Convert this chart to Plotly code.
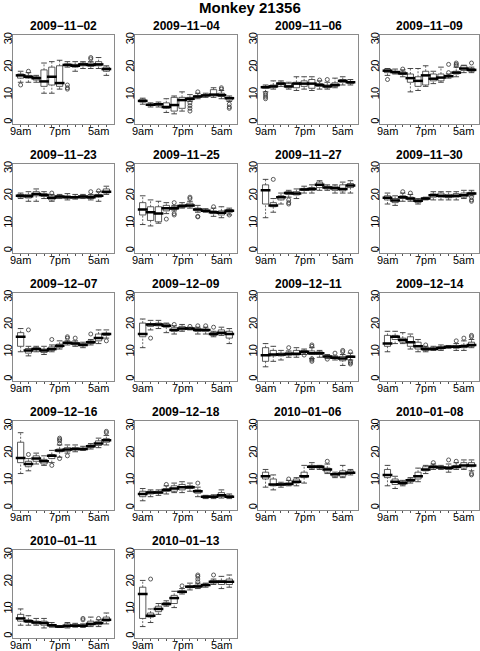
import plotly.graph_objects as go

DATES = ["2009-11-02", "2009-11-04", "2009-11-06", "2009-11-09",
         "2009-11-23", "2009-11-25", "2009-11-27", "2009-11-30",
         "2009-12-07", "2009-12-09", "2009-12-11", "2009-12-14",
         "2009-12-16", "2009-12-18", "2010-01-06", "2010-01-08",
         "2010-01-11", "2010-01-13"]
HOURS = ["9am", "11am", "1pm", "3pm", "5pm", "7pm", "9pm", "11pm", "1am", "3am", "5am", "7am"]
SHOWN_HOURS = ["9am", "7pm", "5am"]
Y_TICKS = [0, 10, 20, 30]

LOW = [
    [14, 14, 14, 10, 10, 11.5, 19.5, 18, 19, 19, 19, 16.5],
    [6, 5, 5, 3, 2.5, 3.5, 7, 8, 8.5, 8.5, 8, 7],
    [10.5, 11.5, 12.5, 11.5, 11, 11.5, 11, 11.5, 11.5, 12, 13, 13],
    [16.5, 17, 16, 10.5, 11, 12.5, 13.5, 14, 15.5, 16, 17.5, 17.5],
    [18.5, 17.5, 17.5, 18.5, 17.5, 18.5, 18, 18.3, 18.5, 18, 17.5, 20],
    [9, 8.5, 9.5, 13, 14, 15, 15, 13.5, 13.5, 12, 11.5, 12.5],
    [11.5, 13.5, 16.5, 19, 18.5, 20.5, 20.5, 21.5, 21.5, 20.5, 20.5, 20.5],
    [16.5, 16, 17.5, 17.5, 16.5, 18, 18, 18, 18, 18, 18.5, 19.5],
    [9.5, 8, 9.5, 8.5, 9.5, 10.5, 12, 11.5, 11, 12, 12.5, 14.5],
    [11, 17.5, 18, 16.5, 16, 17, 17.5, 16, 16, 15, 15.5, 12.5],
    [4, 6, 6.5, 7.5, 7.5, 8.5, 7, 7.5, 7, 6.5, 4.5, 6.5],
    [9.5, 12.5, 12.5, 10.5, 9.5, 9.5, 10, 10, 10.8, 10, 10, 11],
    [12, 13, 15.5, 15, 16, 18, 19.5, 20, 20.5, 21, 21.5, 22.5],
    [2, 3.5, 4, 4.5, 5, 5, 5.5, 3.5, 2.8, 2.8, 3, 2.8],
    [7, 6, 7, 7.5, 7.5, 8.5, 13.5, 13.5, 12, 10.5, 10.5, 11.5],
    [7.5, 6.5, 7.5, 8.5, 9, 12, 13.5, 13.5, 12.5, 13.5, 13.5, 13],
    [3.5, 3.5, 3.5, 2.5, 2.8, 2.7, 2.5, 2.8, 2.7, 3, 3, 4],
    [3, 4.5, 7.5, 10.5, 10, 15, 16.5, 17, 17.5, 18.5, 17, 17.5],
]
Q1 = [
    [15.5, 15.5, 14.8, 12.5, 13, 12.5, 20, 19.5, 20, 19.8, 20, 18],
    [6.8, 5.5, 5.6, 4.5, 3.5, 4.5, 7.5, 8.5, 9, 9, 8.8, 7.5],
    [11.8, 12, 13.2, 12, 12, 12.5, 11.8, 12.5, 12, 12.5, 14, 13.5],
    [17.5, 17.3, 16.8, 14, 12.5, 13, 14.5, 14.5, 16, 17, 18.3, 18],
    [19, 18.7, 19.5, 19.3, 18, 18.8, 18.7, 18.7, 18.8, 18.5, 19, 20.5],
    [12.5, 10.5, 10, 14, 14.5, 15.3, 15.5, 14, 13.7, 13, 12.5, 13.5],
    [16.5, 15.5, 18, 20, 19.8, 21.5, 21.5, 22.5, 22, 21.5, 21.3, 22.5],
    [18, 17, 18.5, 18, 17, 18.2, 19, 19, 18.8, 19, 19, 20],
    [11.5, 9, 10.2, 9.2, 10, 11, 12.5, 12, 11.7, 12.5, 13.5, 15.5],
    [15, 18.8, 19, 18.5, 17, 17.5, 17.7, 17, 17, 15.5, 16, 14.5],
    [6, 8, 8, 8.3, 8.3, 9.2, 8.5, 8.5, 7.5, 7, 6.2, 7.5],
    [11.5, 14, 13, 11.5, 10.5, 10, 10.3, 10.5, 11, 10.8, 11, 11.5],
    [16, 14.5, 16.5, 15.5, 17.5, 20, 20.2, 20.7, 20.7, 21.5, 22.3, 23.5],
    [3.5, 4.5, 4.8, 5.5, 5.5, 6, 6.5, 4.8, 3, 3.2, 3.5, 3.2],
    [10, 7.5, 7.7, 7.8, 8.5, 10.5, 14, 14, 12.5, 11, 11, 12],
    [10.5, 8, 8, 9, 10, 13, 14, 14, 13.5, 14, 14, 14.5],
    [5, 4.5, 4, 3.5, 3, 2.8, 2.8, 3, 3, 3.5, 3.7, 5],
    [6, 6.5, 8.5, 11, 11.5, 15.5, 17.3, 17.3, 18, 19, 18.5, 18.5],
]
MEDIAN = [
    [16.5, 16, 15.5, 14.3, 16, 13.7, 20.3, 20, 20.5, 20.3, 20.5, 18.8],
    [7.2, 5.8, 6, 5, 5.7, 7.5, 8, 8.8, 9.2, 9.5, 9.3, 8.2],
    [12.2, 12.5, 13.5, 12.5, 13.5, 13.5, 13.5, 13, 12.5, 13, 14.5, 14],
    [18.2, 17.7, 17.2, 15.5, 14.5, 16.5, 15.3, 15.7, 16.2, 17.5, 19, 18.5],
    [19.5, 19.3, 20.2, 19.8, 18.8, 19.2, 19, 19, 19.2, 19, 19.5, 21],
    [14.5, 13.5, 13, 15, 15, 15.8, 16, 14.5, 14, 13.5, 13.3, 14],
    [21.5, 16, 19, 20.5, 20.3, 21.8, 22, 23.5, 22.5, 22.3, 22, 23.3],
    [18.8, 17.8, 19, 18.5, 17.7, 18.5, 19.7, 19.5, 19.3, 19.5, 19.7, 20.3],
    [15, 10, 10.5, 10, 10.5, 11.7, 12.8, 12.5, 12, 13, 14.5, 16],
    [16, 19.5, 19.5, 19, 17.5, 18, 18, 17.5, 17.5, 16, 16.5, 16],
    [8.2, 8.5, 8.5, 8.7, 8.8, 9.5, 9, 9, 7.8, 7.3, 7, 7.7],
    [12.5, 15, 13.8, 13, 11.5, 10.5, 10.5, 11, 11.3, 11.3, 11.5, 12],
    [17.7, 15.5, 17.5, 16.5, 18.5, 20.5, 20.8, 21, 21, 22, 23, 24.2],
    [4.5, 5, 5, 6, 6.5, 7, 7, 5.5, 3.5, 3.5, 4, 3.5],
    [11, 8, 8, 8.2, 9, 11, 14.5, 14.5, 13.5, 11.7, 12, 12.3],
    [11.5, 9, 8.5, 9.5, 11, 13.5, 14.5, 14.2, 14, 14.5, 15, 15],
    [6, 5, 4.5, 4.3, 3.5, 3, 3.3, 3.3, 3.3, 4, 4.3, 5.5],
    [15, 7, 9.5, 11.3, 13.5, 15.8, 17.7, 17.8, 18.3, 19.5, 19.5, 19.5],
]
Q3 = [
    [17, 16.5, 16, 18.5, 19.5, 20, 20.7, 20.5, 21, 21, 21.5, 19.5],
    [7.8, 6, 6.3, 6.5, 8.5, 8.5, 8.5, 9.2, 9.5, 11.3, 10, 8.5],
    [12.5, 13, 14, 13.5, 14, 14.5, 15, 13.5, 13, 13.8, 15, 14.3],
    [18.8, 18, 17.8, 17, 16, 18, 17, 17, 16.5, 18, 20, 19],
    [20, 20, 21, 20.3, 19.5, 19.5, 19.5, 19.3, 19.5, 19.5, 20, 22],
    [17, 15.5, 15.5, 16, 15.5, 16.2, 16.8, 15, 14.3, 14, 14, 14.5],
    [23.5, 17, 19.5, 21, 21, 22.2, 22.5, 24.5, 23, 23, 23.5, 24],
    [19.5, 18.5, 19.5, 19, 18, 18.8, 20.2, 20.5, 20, 20.3, 20.5, 20.8],
    [16.5, 10.7, 11, 10.5, 11.3, 12.3, 13, 13, 12.5, 13.5, 16, 16.3],
    [20, 19.8, 20, 19.7, 18.3, 18.8, 18.3, 18, 17.8, 16.5, 17.5, 17],
    [11, 10, 9, 9.3, 10, 10, 9.8, 9.5, 8, 7.7, 7.8, 8],
    [15.5, 15.5, 14.5, 15, 13, 11, 11, 11.3, 11.5, 11.8, 12, 13],
    [23.5, 16.5, 18.5, 17.2, 19, 21, 21.5, 21.5, 21.3, 22.5, 24, 24.8],
    [5.5, 5.5, 5.5, 6.5, 7.5, 8, 7.5, 6, 3.8, 3.8, 5, 4],
    [12.5, 10, 8.3, 8.5, 10, 12.5, 15, 14.8, 14, 12, 13, 13],
    [13.5, 10, 9, 10, 12.5, 14.5, 14.8, 14.5, 14.5, 15, 16, 16],
    [7.5, 5.5, 5, 5, 3.8, 3.2, 4, 3.8, 3.6, 5, 4.8, 6.5],
    [17.5, 8, 10.5, 11.8, 14.5, 16.2, 18, 18.3, 18.7, 20, 20, 20.5],
]
HIGH = [
    [18, 17.5, 16.5, 21, 21.5, 22, 21.5, 21.5, 21.5, 21.5, 23, 20],
    [8.2, 6.5, 6.8, 8, 9, 10.5, 9.5, 10, 10, 12, 11, 9],
    [13, 14.5, 14.5, 14, 16, 16, 16, 14.5, 14, 15.5, 16, 15],
    [19, 18.8, 18.5, 19, 19, 20, 18, 19.5, 17, 19.5, 20.2, 19.5],
    [20.5, 21, 22, 21, 20, 20, 20.3, 20, 20, 20, 21, 23],
    [19.5, 18, 17.5, 17, 16, 17, 17.5, 16, 14.8, 15, 15.5, 15],
    [25.5, 18.5, 20.5, 21.5, 22, 23, 23.5, 25, 23.5, 23.5, 24.5, 25],
    [20.5, 19.5, 20.5, 20, 18.5, 19, 21, 21, 21, 21, 21.5, 21.5],
    [18, 11.5, 11.5, 11.5, 12, 13.5, 13.5, 13.5, 13, 14, 17.5, 17.5],
    [21.5, 21, 21, 20, 19, 19.5, 18.5, 18.5, 18.5, 17, 18.5, 18],
    [12.5, 11.5, 10, 9.8, 11, 10.5, 11, 10, 8.5, 8, 8.5, 9],
    [17, 17, 16.5, 16, 14, 11.5, 11.5, 12, 11.8, 12.5, 13.5, 14],
    [27, 17.5, 19.5, 18.5, 20.5, 22.5, 22.5, 22.5, 22, 23, 25, 26],
    [6.5, 6, 6, 7.5, 8.5, 9, 8.5, 7, 4, 4.2, 6, 4.5],
    [13.5, 11.5, 8.8, 9.5, 10.5, 15, 16, 15, 15.5, 12.5, 15, 13.5],
    [15, 11, 9.5, 10.5, 14, 15, 15.5, 15, 15.5, 16, 17, 17],
    [9.5, 7, 6, 6, 4.5, 3.4, 4.5, 4.2, 4, 6.5, 5.5, 8],
    [20, 9.5, 11.5, 12.5, 16, 17, 19, 19, 19, 20.5, 21.5, 22],
]
# outliers per panel: (box number, value)
OUTLIERS = [
    [(1, 13), (2, 18), (7, 13), (7, 12), (7, 11.5), (10, 22.5), (10, 23)],
    [(7, 6.5), (7, 5.5), (7, 4.5), (7, 3.5), (8, 10.5), (11, 11.5), (11, 12), (12, 6), (12, 5), (12, 4.5)],
    [(1, 10), (1, 9.3), (1, 8.6), (1, 8), (8, 14.8), (9, 15)],
    [(1, 15), (3, 18.8), (9, 17.5), (9, 20.5), (10, 20), (10, 20.5), (10, 21), (12, 21)],
    [(5, 20.5), (10, 21), (11, 21.3)],
    [(4, 11), (5, 17), (5, 13), (5, 12.5), (7, 18.5), (7, 19), (8, 12), (8, 11.8), (10, 15.5), (12, 12.5)],
    [(2, 25.5), (4, 18), (4, 17), (4, 16.5)],
    [(3, 21), (4, 20.5), (12, 19), (12, 18), (12, 17.5)],
    [(2, 17.5), (5, 14), (7, 14.5), (7, 15), (8, 14.5), (10, 16), (12, 13.5)],
    [(2, 14.5), (5, 19.5), (7, 18.8), (8, 19), (9, 19), (10, 18.5)],
    [(4, 11), (6, 8.3), (7, 12), (7, 11.5), (7, 7), (7, 6.5), (7, 6), (9, 6.8), (10, 9),
     (11, 9.5), (11, 10), (12, 6), (12, 5.5), (12, 5), (12, 9.5)],
    [(6, 12), (10, 13.5), (11, 14.5), (12, 15.5), (12, 15)],
    [(2, 19), (5, 15), (6, 23), (6, 24), (6, 24.5), (6, 25), (6, 17.5), (7, 18.5), (12, 27), (12, 27.5)],
    [(4, 8), (8, 8.5)],
    [(4, 10), (9, 16.5)],
    [(7, 16), (9, 17), (10, 16.5), (12, 12), (12, 11.5)],
    [(9, 5.5), (9, 6), (11, 6)],
    [(2, 20.5), (6, 18), (8, 19.5), (8, 20.5), (8, 21.5), (8, 22), (10, 22)],
]

W, H = 480, 651
COL_L = [13, 135, 258, 380]
COL_R = [114, 237, 358, 479]
ROW_T = [35 + 128.75 * r for r in range(5)]
ROW_B = [124 + 128.5 * r for r in range(5)]
FONT = "Liberation Sans, Arial, Helvetica, sans-serif"
FRAME = "#8a8a8a"
TICKC = "#555555"
BOXC = "#333333"

fig = go.Figure()
annotations = []
layout_axes = {}
positions = list(range(1, len(HOURS) + 1))

for i, date in enumerate(DATES):
    r, c = divmod(i, 4)
    sfx = "" if i == 0 else str(i + 1)
    xa, ya = "x" + sfx, "y" + sfx

    # dashed whiskers (R style)
    wx, wy = [], []
    for p, lo, a, b3, hi in zip(positions, LOW[i], Q1[i], Q3[i], HIGH[i]):
        wx += [p, p, None, p, p, None]
        wy += [lo, a, None, b3, hi, None]
    fig.add_trace(go.Scatter(
        x=wx, y=wy, mode="lines", line=dict(color="#444444", width=0.8, dash="2px,1.5px"),
        xaxis=xa, yaxis=ya, hoverinfo="skip"))
    # whisker caps
    fig.add_trace(go.Scatter(
        x=positions + positions, y=LOW[i] + HIGH[i], mode="markers",
        marker=dict(symbol="line-ew", size=4, color="#333333",
                    line=dict(width=0.9, color="#333333")),
        xaxis=xa, yaxis=ya, hoverinfo="skip"))
    # boxes (no whiskers: fences at quartiles)
    fig.add_trace(go.Box(
        x=positions, q1=Q1[i], median=MEDIAN[i], q3=Q3[i],
        lowerfence=Q1[i], upperfence=Q3[i],
        width=0.8, whiskerwidth=0, boxpoints=False,
        fillcolor="white", line=dict(color=BOXC, width=0.8),
        xaxis=xa, yaxis=ya, hoverinfo="skip"))
    # thick medians
    fig.add_trace(go.Scatter(
        x=positions, y=MEDIAN[i], mode="markers",
        marker=dict(symbol="line-ew", size=7, color="black",
                    line=dict(width=2.5, color="black")),
        xaxis=xa, yaxis=ya, hoverinfo="skip"))
    if OUTLIERS[i]:
        fig.add_trace(go.Scatter(
            x=[p for p, v in OUTLIERS[i]], y=[v for p, v in OUTLIERS[i]], mode="markers",
            marker=dict(symbol="circle-open", size=4, color="#333333",
                        line=dict(width=0.8, color="#333333")),
            xaxis=xa, yaxis=ya, hoverinfo="skip"))

    l, rr = COL_L[c], COL_R[c]
    t, b = ROW_T[r], ROW_B[r]
    layout_axes["xaxis" + sfx] = dict(
        domain=[l / W, rr / W], range=[0.02, len(HOURS) + 0.98], anchor=ya,
        tickmode="array", tickvals=positions, ticktext=[""] * len(HOURS),
        ticks="outside", ticklen=2, tickcolor=TICKC, tickwidth=1,
        showline=True, mirror=True, linecolor=FRAME, linewidth=1,
        showgrid=False, zeroline=False)
    layout_axes["yaxis" + sfx] = dict(
        domain=[1 - b / H, 1 - t / H], range=[-1.2, 31.2], anchor=xa,
        tickmode="array", tickvals=Y_TICKS, ticktext=[""] * len(Y_TICKS),
        ticks="outside", ticklen=2, tickcolor=TICKC, tickwidth=1,
        showline=True, mirror=True, linecolor=FRAME, linewidth=1,
        showgrid=False, zeroline=False)

    # x tick labels
    for p, h in zip(positions, HOURS):
        if h in SHOWN_HOURS:
            annotations.append(dict(
                text=h, x=p, y=0, xref=xa, yref=ya + " domain",
                xanchor="center", yanchor="middle", yshift=-7, showarrow=False,
                font=dict(size=11, color="black", family=FONT)))
    # y tick labels (rotated)
    for v in Y_TICKS:
        annotations.append(dict(
            text=str(v), x=0, y=v, xref=xa + " domain", yref=ya,
            xanchor="center", yanchor="middle", xshift=-5, textangle=-90,
            showarrow=False, font=dict(size=11, color="black", family=FONT)))
    # panel title
    annotations.append(dict(
        text="<b>" + date.replace("-", "\u2212") + "</b>",
        x=(l + rr) / 2 / W, y=1 - (t - 9) / H, xref="paper", yref="paper",
        xanchor="center", yanchor="middle", showarrow=False,
        font=dict(size=12, color="black", family=FONT)))

annotations.append(dict(
    text="<b>Monkey 21356</b>", x=250 / W, y=1 - 7.5 / H, xref="paper", yref="paper",
    xanchor="center", yanchor="middle", showarrow=False,
    font=dict(size=15, color="black", family=FONT)))

fig.update_layout(
    width=W, height=H, margin=dict(l=0, r=0, t=0, b=0),
    paper_bgcolor="white", plot_bgcolor="white", showlegend=False,
    font=dict(family=FONT, color="black"),
    annotations=annotations, **layout_axes)

fig.write_html("out.html", config={"displayModeBar": False},
               post_script="document.body.style.margin='0px';document.body.style.overflow='hidden';")
